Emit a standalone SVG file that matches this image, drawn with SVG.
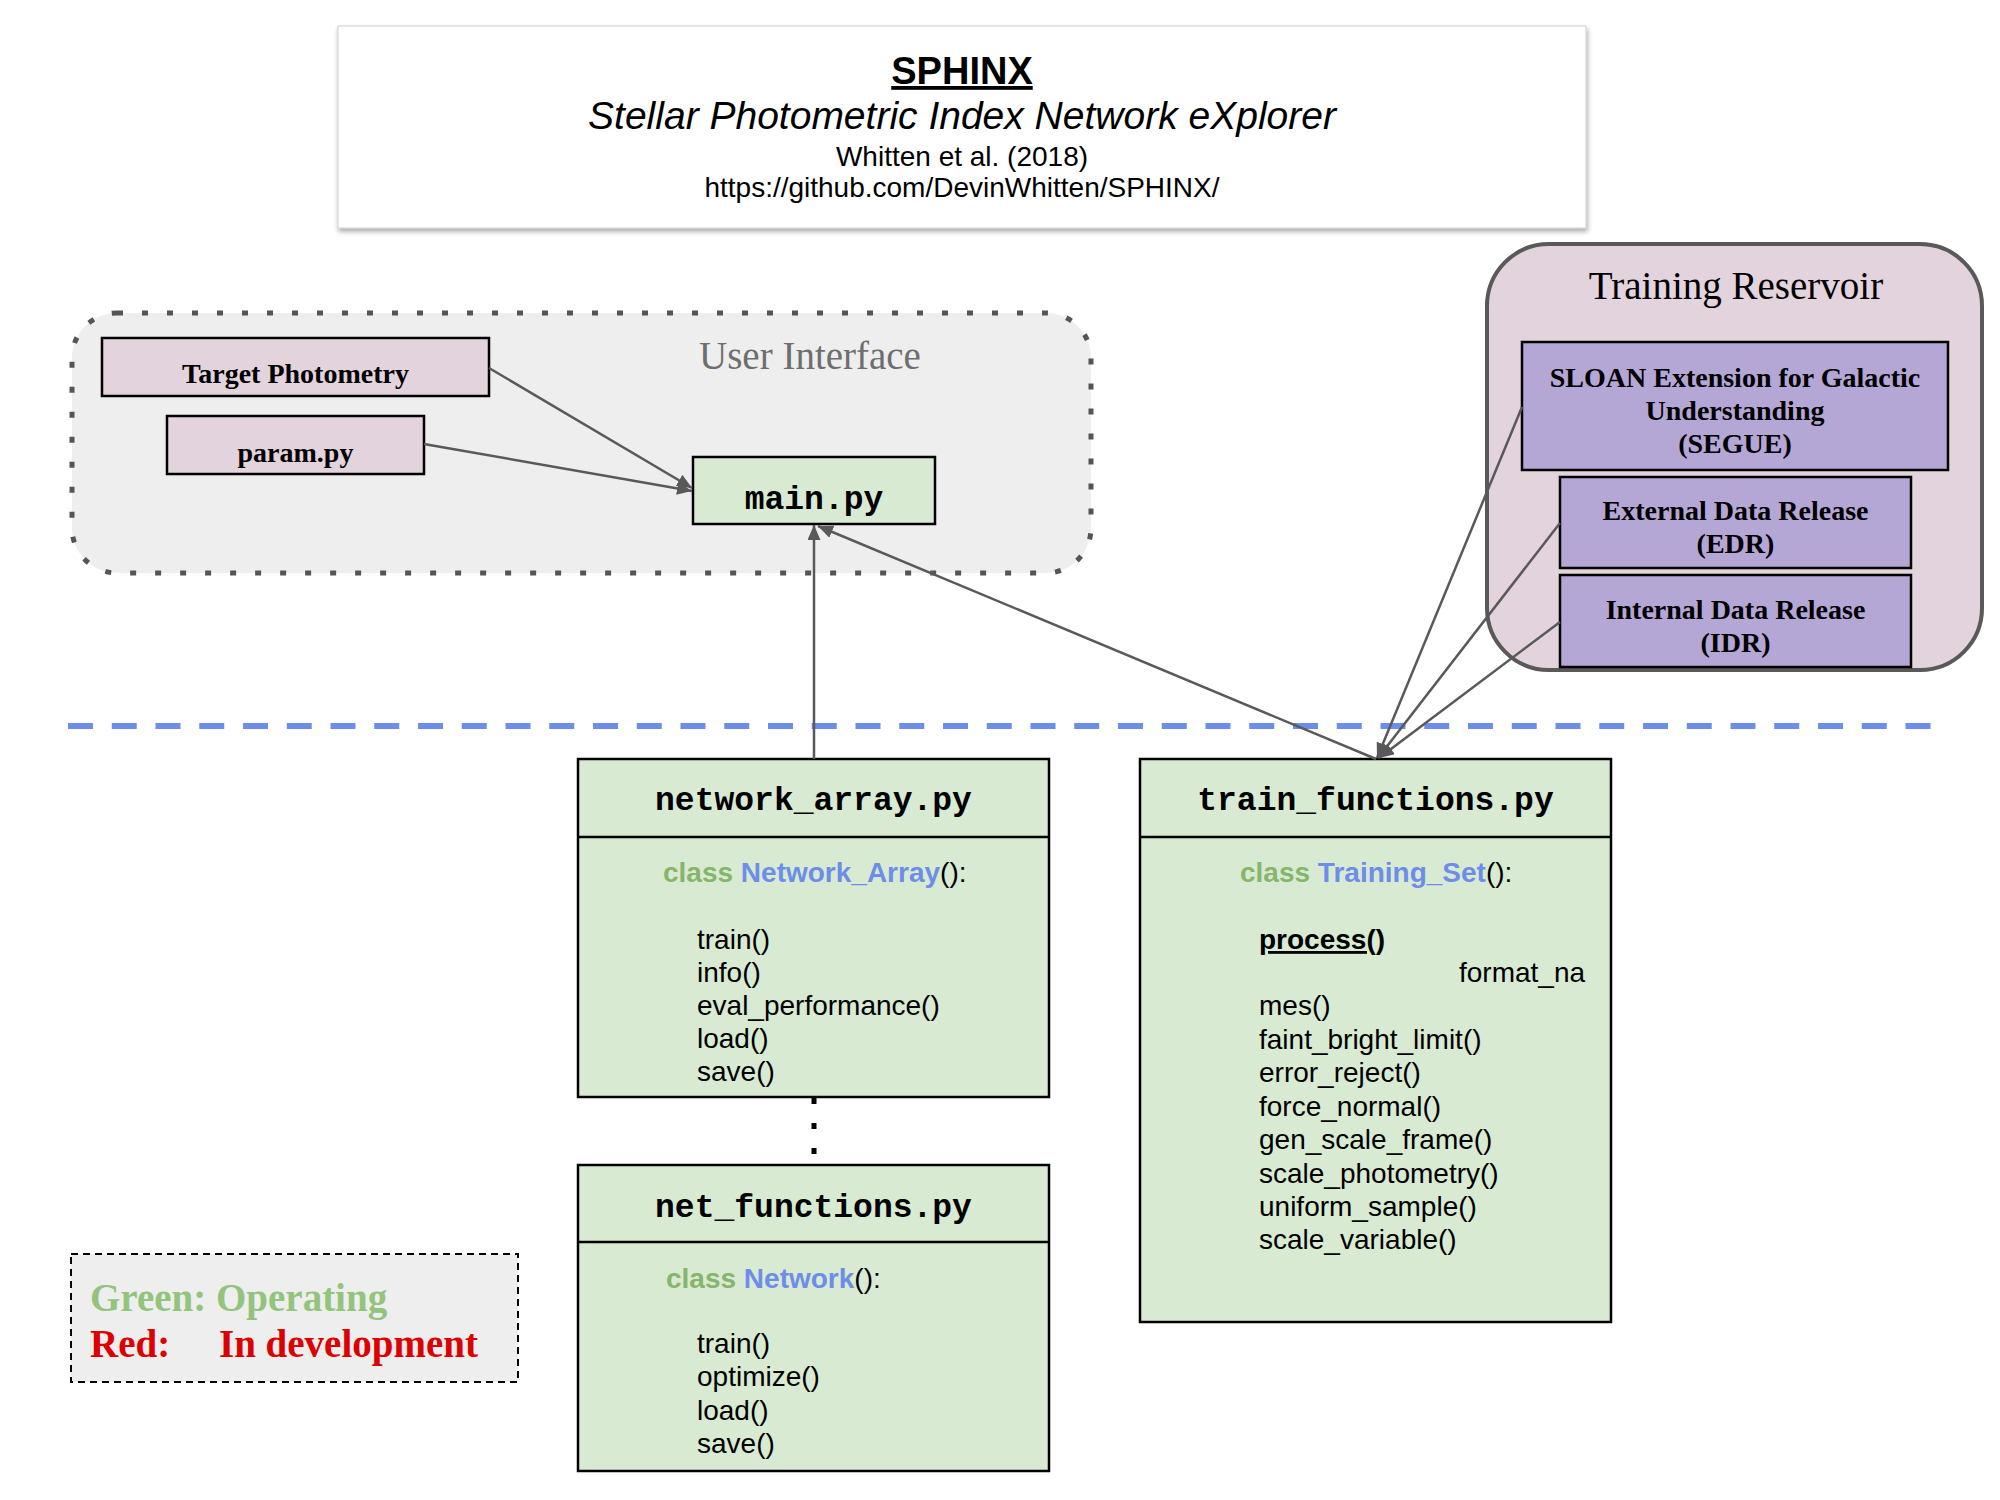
<svg xmlns="http://www.w3.org/2000/svg" width="2000" height="1500" viewBox="0 0 2000 1500">
<defs>
<style>
.sans{font-family:"Liberation Sans",Arial,sans-serif}
.serif{font-family:"Liberation Serif","Times New Roman",serif}
.mono{font-family:"Liberation Mono","Courier New",monospace;font-weight:bold}
.green{fill:#d9ead3;stroke:#000;stroke-width:2.5}
.pink{fill:#e2d3dc;stroke:#000;stroke-width:2.5}
.purple{fill:#b4a7d6;stroke:#000;stroke-width:2.5}
.conn{stroke:#595959;stroke-width:2.5;fill:none}
.meth{font-size:28px;fill:#000}
.cls{font-size:28px;font-weight:bold}
.kw{fill:#86b56b}
.cn{fill:#6d8ee8}
.par{font-weight:normal;fill:#000}
.hdr{font-size:33px;text-anchor:middle;fill:#000}
.rt{font-size:28px;font-weight:bold;text-anchor:middle;fill:#000}
</style>
<marker id="arr" markerUnits="userSpaceOnUse" markerWidth="15" markerHeight="13" refX="15" refY="6.5" orient="auto">
<path d="M0,0 L15,6.5 L0,13 z" fill="#595959"/>
</marker>
<filter id="shadow" x="-5%" y="-10%" width="110%" height="130%">
<feDropShadow dx="1" dy="3" stdDeviation="2.5" flood-color="#000" flood-opacity="0.35"/>
</filter>
</defs>
<rect width="2000" height="1500" fill="#fff"/>

<g id="title">
<rect x="338" y="26" width="1248" height="202" fill="#fff" stroke="#d0d0d0" stroke-width="1" filter="url(#shadow)"/>
<text x="962" y="84" class="sans" font-size="38" font-weight="bold" text-anchor="middle" text-decoration="underline">SPHINX</text>
<text x="962" y="129" class="sans" font-size="39" font-style="italic" text-anchor="middle">Stellar Photometric Index Network eXplorer</text>
<text x="962" y="166" class="sans" font-size="28" text-anchor="middle">Whitten et al. (2018)</text>
<text x="962" y="197" class="sans" font-size="28" text-anchor="middle">https://github.com/DevinWhitten/SPHINX/</text>
</g>

<g id="user-interface">
<rect x="72" y="313" width="1019" height="260" rx="45" ry="45" fill="#eeeeee" stroke="#555" stroke-width="5" stroke-dasharray="6 19"/>
<text x="699" y="369" class="serif" font-size="39" fill="#6e6e6e">User Interface</text>
</g>

<g id="target-photometry">
<rect x="102" y="338" width="387" height="58" class="pink"/>
<text x="295.5" y="383" class="serif rt">Target Photometry</text>
</g>

<g id="param-py">
<rect x="167" y="416" width="257" height="58" class="pink"/>
<text x="295.5" y="462" class="serif rt">param.py</text>
</g>

<g id="main-py">
<rect x="693" y="457" width="242" height="67" class="green"/>
<text x="814" y="509" class="mono hdr">main.py</text>
</g>

<g id="training-reservoir">
<rect x="1487" y="244" width="495" height="426" rx="62" ry="62" fill="#e2d3dc" stroke="#595959" stroke-width="4"/>
<text x="1736" y="299" class="serif" font-size="39" text-anchor="middle">Training Reservoir</text>
</g>

<g id="segue">
<rect x="1522" y="342" width="426" height="128" class="purple"/>
<text x="1735" y="387" class="serif rt">SLOAN Extension for Galactic</text>
<text x="1735" y="420" class="serif rt">Understanding</text>
<text x="1735" y="453" class="serif rt">(SEGUE)</text>
</g>

<g id="edr">
<rect x="1560" y="477" width="351" height="91" class="purple"/>
<text x="1735.5" y="520" class="serif rt">External Data Release</text>
<text x="1735.5" y="553" class="serif rt">(EDR)</text>
</g>

<g id="idr">
<rect x="1560" y="575" width="351" height="92" class="purple"/>
<text x="1735.5" y="619" class="serif rt">Internal Data Release</text>
<text x="1735.5" y="652" class="serif rt">(IDR)</text>
</g>

<g id="separator">
<line x1="68" y1="726" x2="1932" y2="726" stroke="#6d8ee8" stroke-width="6" stroke-dasharray="25 18.75"/>
</g>

<g id="network-array">
<rect x="578" y="759" width="471" height="338" class="green"/>
<line x1="578" y1="837" x2="1049" y2="837" stroke="#000" stroke-width="2.5"/>
<text x="813.5" y="810" class="mono hdr">network_array.py</text>
<text x="663" y="882" class="sans cls"><tspan class="kw">class </tspan><tspan class="cn">Network_Array</tspan><tspan class="par">():</tspan></text>
<g class="sans meth">
<text x="697" y="949">train()</text>
<text x="697" y="982">info()</text>
<text x="697" y="1015">eval_performance()</text>
<text x="697" y="1048">load()</text>
<text x="697" y="1081">save()</text>
</g>
</g>

<g id="train-functions">
<rect x="1140" y="759" width="471" height="563" class="green"/>
<line x1="1140" y1="837" x2="1611" y2="837" stroke="#000" stroke-width="2.5"/>
<text x="1375.5" y="810" class="mono hdr">train_functions.py</text>
<text x="1240" y="882" class="sans cls"><tspan class="kw">class </tspan><tspan class="cn">Training_Set</tspan><tspan class="par">():</tspan></text>
<g class="sans meth">
<text x="1259" y="949" font-weight="bold" text-decoration="underline">process()</text>
<text x="1459" y="982">format_na</text>
<text x="1259" y="1015">mes()</text>
<text x="1259" y="1049">faint_bright_limit()</text>
<text x="1259" y="1082">error_reject()</text>
<text x="1259" y="1116">force_normal()</text>
<text x="1259" y="1149">gen_scale_frame()</text>
<text x="1259" y="1183">scale_photometry()</text>
<text x="1259" y="1216">uniform_sample()</text>
<text x="1259" y="1249">scale_variable()</text>
</g>
</g>

<g id="net-functions">
<rect x="578" y="1165" width="471" height="306" class="green"/>
<line x1="578" y1="1242" x2="1049" y2="1242" stroke="#000" stroke-width="2.5"/>
<text x="813.5" y="1217" class="mono hdr">net_functions.py</text>
<text x="666" y="1288" class="sans cls"><tspan class="kw">class </tspan><tspan class="cn">Network</tspan><tspan class="par">():</tspan></text>
<g class="sans meth">
<text x="697" y="1353">train()</text>
<text x="697" y="1386">optimize()</text>
<text x="697" y="1420">load()</text>
<text x="697" y="1453">save()</text>
</g>
</g>

<g id="legend">
<rect x="71" y="1254" width="447" height="128" fill="#eeeeee" stroke="#000" stroke-width="2" stroke-dasharray="7 5"/>
<text x="90" y="1311" class="serif" font-size="39" font-weight="bold" fill="#93c47d">Green: Operating</text>
<text x="90" y="1357" class="serif" font-size="39" font-weight="bold" fill="#dd0000">Red:</text>
<text x="219" y="1357" class="serif" font-size="39" font-weight="bold" fill="#dd0000">In development</text>
</g>

<g id="connectors">
<line x1="489" y1="368" x2="692" y2="488" class="conn" marker-end="url(#arr)"/>
<line x1="424" y1="444" x2="692" y2="491" class="conn" marker-end="url(#arr)"/>
<line x1="814" y1="759" x2="814" y2="525" class="conn" marker-end="url(#arr)"/>
<line x1="1376" y1="759" x2="818" y2="526" class="conn" marker-end="url(#arr)"/>
<line x1="1522" y1="407" x2="1377" y2="758" class="conn" marker-end="url(#arr)"/>
<line x1="1560" y1="523" x2="1378" y2="758" class="conn" marker-end="url(#arr)"/>
<line x1="1560" y1="622" x2="1379" y2="758" class="conn" marker-end="url(#arr)"/>
<line x1="814" y1="1098" x2="814" y2="1165" stroke="#000" stroke-width="5" stroke-dasharray="6 19"/>
</g>
</svg>
